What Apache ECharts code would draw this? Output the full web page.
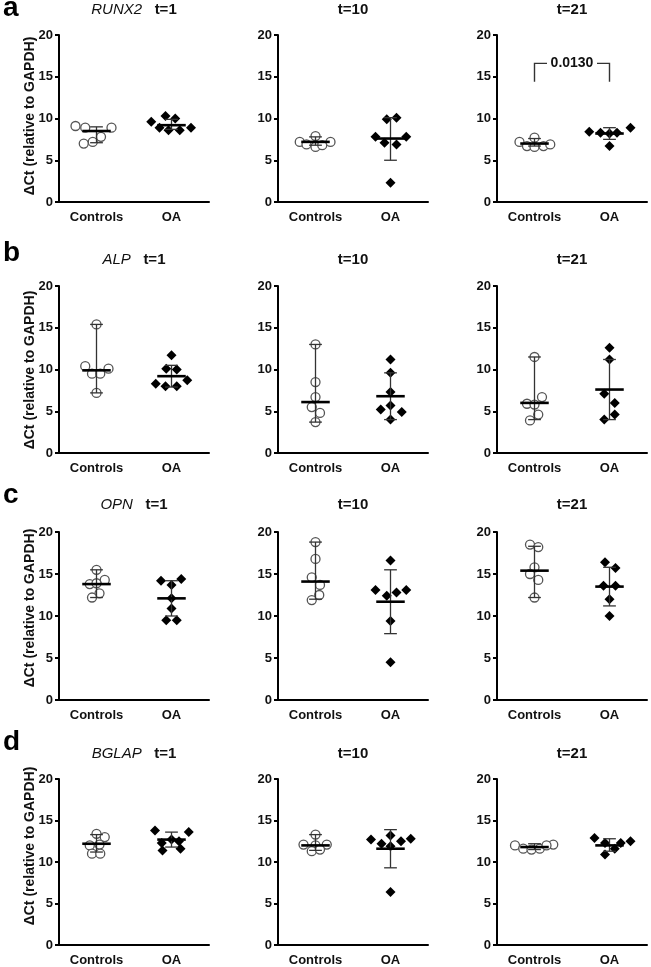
<!DOCTYPE html>
<html>
<head>
<meta charset="utf-8">
<script src="https://cdn.jsdelivr.net/npm/echarts@6/dist/echarts.min.js"></script>
<style>
html,body{margin:0;padding:0;background:#fff;}
#chart{width:651px;height:967px;}
</style>
</head>
<body>
<div id="chart"></div>
<script>
// ---------- labels ----------
const genes = ['RUNX2', 'ALP', 'OPN', 'BGLAP'];
const letters = ['a', 'b', 'c', 'd'];
const times = ['t=1', 't=10', 't=21'];
const groups = ['Controls', 'OA'];
const yAxisName = '\u0394Ct (relative to GAPDH)';
const yMin = 0, yMax = 20, yStep = 5;

// ---------- data: values, horizontal jitter (category units), [median, lower, upper] ----------
// RUNX2
const RUNX2_t1_ctrl = [9.1, 8.9, 8.9, 7.8, 7.2, 7.0];
const RUNX2_t1_ctrl_jit = [-0.28, -0.15, 0.20, 0.06, -0.05, -0.17];
const RUNX2_t1_ctrl_stats = [8.5, 7.1, 9.0];
const RUNX2_t1_oa = [9.6, 10.3, 10.0, 8.9, 8.6, 8.6, 8.9];
const RUNX2_t1_oa_jit = [-0.27, -0.08, 0.05, -0.16, -0.04, 0.11, 0.26];
const RUNX2_t1_oa_stats = [9.2, 8.7, 9.9];

const RUNX2_t10_ctrl = [7.2, 7.9, 6.9, 6.6, 6.8, 7.2];
const RUNX2_t10_ctrl_jit = [-0.21, 0, -0.12, 0, 0.09, 0.20];
const RUNX2_t10_ctrl_stats = [7.2, 6.8, 7.8];
const RUNX2_t10_oa = [7.8, 9.9, 10.1, 7.1, 6.9, 7.8, 2.3];
const RUNX2_t10_oa_jit = [-0.20, -0.05, 0.08, -0.08, 0.08, 0.21, 0];
const RUNX2_t10_oa_stats = [7.6, 5.0, 10.1];

const RUNX2_t21_ctrl = [7.2, 7.7, 6.7, 6.6, 6.7, 6.9];
const RUNX2_t21_ctrl_jit = [-0.20, 0, -0.10, 0, 0.12, 0.21];
const RUNX2_t21_ctrl_stats = [7.0, 6.7, 7.6];
const RUNX2_t21_oa = [8.4, 8.3, 8.2, 8.3, 8.9, 6.7];
const RUNX2_t21_oa_jit = [-0.27, -0.12, 0, 0.10, 0.28, 0];
const RUNX2_t21_oa_stats = [8.2, 7.5, 8.9];

// ALP
const ALP_t1_ctrl = [15.4, 10.4, 10.1, 9.5, 9.5, 7.2];
const ALP_t1_ctrl_jit = [0, -0.15, 0.16, -0.06, 0.05, 0];
const ALP_t1_ctrl_stats = [9.9, 7.2, 15.4];
const ALP_t1_oa = [11.7, 10.1, 10.0, 8.3, 8.0, 8.0, 8.7];
const ALP_t1_oa_jit = [0, -0.07, 0.07, -0.21, -0.08, 0.07, 0.21];
const ALP_t1_oa_stats = [9.2, 7.9, 10.5];

const ALP_t10_ctrl = [13.0, 8.5, 6.7, 5.5, 4.8, 3.7];
const ALP_t10_ctrl_jit = [0, 0, 0, -0.05, 0.06, 0];
const ALP_t10_ctrl_stats = [6.1, 3.7, 13.0];
const ALP_t10_oa = [11.2, 9.6, 7.3, 5.2, 5.7, 4.9, 4.0];
const ALP_t10_oa_jit = [0, 0, 0, -0.13, 0, 0.15, 0];
const ALP_t10_oa_stats = [6.8, 4.0, 9.6];

const ALP_t21_ctrl = [11.5, 5.9, 6.7, 5.8, 4.6, 3.9];
const ALP_t21_ctrl_jit = [0, -0.10, 0.10, 0, 0.05, -0.06];
const ALP_t21_ctrl_stats = [6.0, 4.0, 11.5];
const ALP_t21_oa = [12.6, 11.2, 7.1, 6.0, 4.6, 4.0];
const ALP_t21_oa_jit = [0, 0, -0.07, 0.07, 0.07, -0.07];
const ALP_t21_oa_stats = [7.6, 4.0, 11.2];

// OPN
const OPN_t1_ctrl = [15.5, 14.3, 13.8, 13.9, 12.7, 12.2];
const OPN_t1_ctrl_jit = [0, 0.11, -0.09, 0, 0.04, -0.06];
const OPN_t1_ctrl_stats = [13.8, 12.2, 15.5];
const OPN_t1_oa = [14.2, 14.4, 13.7, 12.1, 10.9, 9.5, 9.5];
const OPN_t1_oa_jit = [-0.14, 0.13, 0, 0, 0, -0.07, 0.07];
const OPN_t1_oa_stats = [12.1, 10.0, 14.2];

const OPN_t10_ctrl = [18.8, 16.8, 14.6, 13.7, 12.5, 11.9];
const OPN_t10_ctrl_jit = [0, 0, -0.05, 0.06, 0.05, -0.05];
const OPN_t10_ctrl_stats = [14.1, 12.0, 18.8];
const OPN_t10_oa = [16.6, 13.1, 12.4, 12.8, 13.1, 9.4, 4.5];
const OPN_t10_oa_jit = [0, -0.20, -0.05, 0.08, 0.21, 0, 0];
const OPN_t10_oa_stats = [11.7, 7.9, 15.5];

const OPN_t21_ctrl = [18.5, 18.2, 15.8, 15.0, 14.3, 12.2];
const OPN_t21_ctrl_jit = [-0.06, 0.05, 0, -0.06, 0.05, 0];
const OPN_t21_ctrl_stats = [15.4, 12.2, 18.3];
const OPN_t21_oa = [16.4, 15.7, 13.6, 13.6, 12.0, 10.0];
const OPN_t21_oa_jit = [-0.06, 0.08, -0.08, 0.08, 0, 0];
const OPN_t21_oa_stats = [13.5, 11.2, 15.8];

// BGLAP
const BGLAP_t1_ctrl = [13.4, 13.0, 12.0, 12.1, 11.0, 11.0];
const BGLAP_t1_ctrl_jit = [0, 0.11, -0.09, 0.04, -0.06, 0.05];
const BGLAP_t1_ctrl_stats = [12.2, 11.2, 13.3];
const BGLAP_t1_oa = [13.8, 13.6, 12.3, 12.7, 12.5, 11.4, 11.6];
const BGLAP_t1_oa_jit = [-0.22, 0.23, -0.13, 0, 0.10, -0.12, 0.12];
const BGLAP_t1_oa_stats = [12.7, 11.8, 13.6];

const BGLAP_t10_ctrl = [13.3, 12.1, 12.1, 12.0, 11.3, 11.5];
const BGLAP_t10_ctrl_jit = [0, -0.16, 0.15, 0, -0.05, 0.06];
const BGLAP_t10_ctrl_stats = [12.0, 11.4, 13.3];
const BGLAP_t10_oa = [12.7, 12.8, 13.2, 12.2, 11.9, 12.5, 6.4];
const BGLAP_t10_oa_jit = [-0.26, 0.27, 0, -0.12, 0, 0.14, 0];
const BGLAP_t10_oa_stats = [11.6, 9.3, 13.9];

const BGLAP_t21_ctrl = [12.0, 12.1, 11.6, 11.5, 11.6, 12.0];
const BGLAP_t21_ctrl_jit = [-0.26, 0.25, -0.15, -0.04, 0.07, 0.16];
const BGLAP_t21_ctrl_stats = [11.8, 11.5, 12.2];
const BGLAP_t21_oa = [12.9, 12.5, 12.3, 12.3, 11.6, 10.9];
const BGLAP_t21_oa_jit = [-0.20, 0.28, -0.06, 0.15, 0.07, -0.06];
const BGLAP_t21_oa_stats = [12.0, 11.3, 12.8];

// significance annotation (RUNX2, t=21): group indices, bracket top, leg bottom, label
const sigPanel = [0, 2];
const sigGroups = [0, 1];
const sigTop = 16.6;
const sigLeg = 14.4;
const sigLabel = '0.0130';

// ---------- assemble ----------
const P = (c, cj, cs, o, oj, os) => ({ c, cj, cs, o, oj, os });
const panels = [
  [P(RUNX2_t1_ctrl, RUNX2_t1_ctrl_jit, RUNX2_t1_ctrl_stats, RUNX2_t1_oa, RUNX2_t1_oa_jit, RUNX2_t1_oa_stats),
   P(RUNX2_t10_ctrl, RUNX2_t10_ctrl_jit, RUNX2_t10_ctrl_stats, RUNX2_t10_oa, RUNX2_t10_oa_jit, RUNX2_t10_oa_stats),
   P(RUNX2_t21_ctrl, RUNX2_t21_ctrl_jit, RUNX2_t21_ctrl_stats, RUNX2_t21_oa, RUNX2_t21_oa_jit, RUNX2_t21_oa_stats)],
  [P(ALP_t1_ctrl, ALP_t1_ctrl_jit, ALP_t1_ctrl_stats, ALP_t1_oa, ALP_t1_oa_jit, ALP_t1_oa_stats),
   P(ALP_t10_ctrl, ALP_t10_ctrl_jit, ALP_t10_ctrl_stats, ALP_t10_oa, ALP_t10_oa_jit, ALP_t10_oa_stats),
   P(ALP_t21_ctrl, ALP_t21_ctrl_jit, ALP_t21_ctrl_stats, ALP_t21_oa, ALP_t21_oa_jit, ALP_t21_oa_stats)],
  [P(OPN_t1_ctrl, OPN_t1_ctrl_jit, OPN_t1_ctrl_stats, OPN_t1_oa, OPN_t1_oa_jit, OPN_t1_oa_stats),
   P(OPN_t10_ctrl, OPN_t10_ctrl_jit, OPN_t10_ctrl_stats, OPN_t10_oa, OPN_t10_oa_jit, OPN_t10_oa_stats),
   P(OPN_t21_ctrl, OPN_t21_ctrl_jit, OPN_t21_ctrl_stats, OPN_t21_oa, OPN_t21_oa_jit, OPN_t21_oa_stats)],
  [P(BGLAP_t1_ctrl, BGLAP_t1_ctrl_jit, BGLAP_t1_ctrl_stats, BGLAP_t1_oa, BGLAP_t1_oa_jit, BGLAP_t1_oa_stats),
   P(BGLAP_t10_ctrl, BGLAP_t10_ctrl_jit, BGLAP_t10_ctrl_stats, BGLAP_t10_oa, BGLAP_t10_oa_jit, BGLAP_t10_oa_stats),
   P(BGLAP_t21_ctrl, BGLAP_t21_ctrl_jit, BGLAP_t21_ctrl_stats, BGLAP_t21_oa, BGLAP_t21_oa_jit, BGLAP_t21_oa_stats)]
];

// ---------- layout / style ----------
const FONT = "'Liberation Sans', Arial, Helvetica, sans-serif";
const INK = '#111';
const gridLefts = [59, 278, 497];
const gridTops = [35, 286, 532, 779];
const gridHeights = [167, 167, 168, 169];
const gridW = 150;
const titleY = [10, 260, 505, 754];
const letterY = [8, 253, 495, 742];
const nameY = [116, 370, 608, 846];

const grids = [], xAxes = [], yAxes = [], series = [], graphics = [];

function renderErr(params, api) {
  const x = api.value(0), m = api.value(1), lo = api.value(2), hi = api.value(3);
  const c = (a, b) => api.coord([a, b]);
  const t = c(x, hi), b = c(x, lo);
  const cw = 0.085, mw = 0.19;
  const thin = { stroke: '#333', lineWidth: 1.3 };
  return {
    type: 'group',
    children: [
      { type: 'line', shape: { x1: t[0], y1: t[1], x2: b[0], y2: b[1] }, style: thin },
      { type: 'line', shape: { x1: c(x - cw, hi)[0], y1: t[1], x2: c(x + cw, hi)[0], y2: t[1] }, style: thin },
      { type: 'line', shape: { x1: c(x - cw, lo)[0], y1: b[1], x2: c(x + cw, lo)[0], y2: b[1] }, style: thin },
      { type: 'line', shape: { x1: c(x - mw, m)[0], y1: c(x, m)[1], x2: c(x + mw, m)[0], y2: c(x, m)[1] },
        style: { stroke: '#000', lineWidth: 2.6 } }
    ]
  };
}

function renderSig(params, api) {
  const x1 = api.value(0), x2 = api.value(1), top = api.value(2), leg = api.value(3);
  const a = api.coord([x1, leg]), b = api.coord([x1, top]);
  const cc = api.coord([x2, top]), d = api.coord([x2, leg]);
  const mid = (b[0] + cc[0]) / 2, gap = 25;
  const st = { stroke: '#333', lineWidth: 1.4, fill: null };
  return {
    type: 'group',
    children: [
      { type: 'polyline', shape: { points: [a, b, [mid - gap, b[1]]] }, style: st },
      { type: 'polyline', shape: { points: [[mid + gap, cc[1]], cc, d] }, style: st },
      { type: 'text', x: mid, y: b[1], style: { text: sigLabel, fontFamily: FONT, fontWeight: 'bold', fontSize: 14,
        fill: INK, align: 'center', verticalAlign: 'middle' } }
    ]
  };
}

for (let r = 0; r < 4; r++) {
  for (let col = 0; col < 3; col++) {
    const k = r * 3 + col;
    const p = panels[r][col];
    grids.push({ left: gridLefts[col], top: gridTops[r], width: gridW, height: gridHeights[r] });
    xAxes.push({
      type: 'category', gridIndex: k, data: groups, boundaryGap: true,
      axisLine: { onZero: false, lineStyle: { color: '#000', width: 2 } },
      axisTick: { alignWithLabel: true, length: 4, lineStyle: { color: '#000', width: 2 } },
      axisLabel: { fontFamily: FONT, fontWeight: 'bold', fontSize: 13, color: INK, margin: 9 },
      splitLine: { show: false }
    });
    xAxes.push({ type: 'value', gridIndex: k, min: -0.5, max: 1.5, show: false,
      axisLine: { onZero: false }, splitLine: { show: false } });
    yAxes.push({
      type: 'value', gridIndex: k, min: yMin, max: yMax, interval: yStep,
      axisLine: { show: true, onZero: false, lineStyle: { color: '#000', width: 2 } },
      axisTick: { show: true, length: 4, lineStyle: { color: '#000', width: 2 } },
      axisLabel: { fontFamily: FONT, fontWeight: 'bold', fontSize: 13, color: INK, margin: 6 },
      splitLine: { show: false }
    });
    const xi = 2 * k + 1;
    series.push({
      type: 'scatter', xAxisIndex: xi, yAxisIndex: k, symbol: 'circle', symbolSize: 9, z: 2,
      data: p.c.map((v, i) => [0 + p.cj[i], v]),
      itemStyle: { color: '#fff', borderColor: '#555', borderWidth: 1.3, opacity: 1 }
    });
    series.push({
      type: 'scatter', xAxisIndex: xi, yAxisIndex: k, symbol: 'diamond', symbolSize: 10, z: 2,
      data: p.o.map((v, i) => [1 + p.oj[i], v]),
      itemStyle: { color: '#000', opacity: 1 }
    });
    series.push({
      type: 'custom', xAxisIndex: xi, yAxisIndex: k, z: 3, renderItem: renderErr,
      data: [[0, ...p.cs], [1, ...p.os]]
    });
    if (r === sigPanel[0] && col === sigPanel[1]) {
      series.push({
        type: 'custom', xAxisIndex: xi, yAxisIndex: k, z: 3, renderItem: renderSig,
        data: [[sigGroups[0], sigGroups[1], sigTop, sigLeg]]
      });
    }
    // titles and labels
    const cx = gridLefts[col] + gridW / 2;
    if (col === 0) {
      graphics.push({ type: 'text', x: cx, y: titleY[r], style: {
        text: '{g|' + genes[r] + '}   {t|' + times[col] + '}', fontFamily: FONT, fontSize: 15,
        align: 'center', verticalAlign: 'middle', fill: INK,
        rich: { g: { fontFamily: FONT, fontSize: 15, fontStyle: 'italic', fill: INK },
                t: { fontFamily: FONT, fontSize: 15, fontWeight: 'bold', fill: INK } } } });
      graphics.push({ type: 'text', x: 3, y: letterY[r], style: {
        text: letters[r], fontFamily: FONT, fontSize: 28, fontWeight: 'bold', fill: '#000',
        align: 'left', verticalAlign: 'middle' } });
      graphics.push({ type: 'text', x: 30, y: nameY[r], rotation: Math.PI / 2, style: {
        text: yAxisName, fontFamily: FONT, fontSize: 14, fontWeight: 'bold', fill: INK,
        align: 'center', verticalAlign: 'middle' } });
    } else {
      graphics.push({ type: 'text', x: cx, y: titleY[r], style: {
        text: times[col], fontFamily: FONT, fontSize: 15, fontWeight: 'bold', fill: INK,
        align: 'center', verticalAlign: 'middle' } });
    }
  }
}

const chart = echarts.init(document.getElementById('chart'), null, { renderer: 'canvas' });
chart.setOption({
  animation: false,
  backgroundColor: '#fff',
  grid: grids,
  xAxis: xAxes,
  yAxis: yAxes,
  series: series,
  graphic: graphics
});
</script>
</body>
</html>
